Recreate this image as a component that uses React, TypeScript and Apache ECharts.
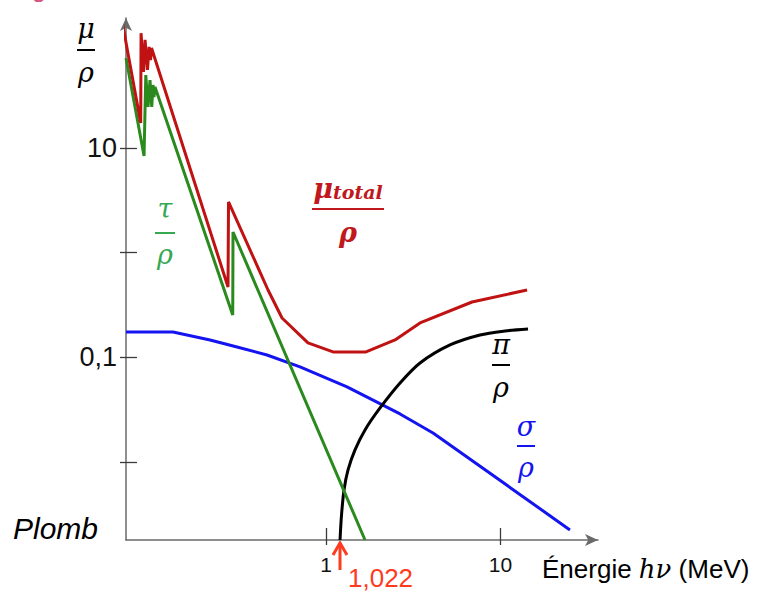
import React, { useEffect, useRef } from "react";
import * as echarts from "echarts";

// Energies in MeV, mass attenuation coefficients in cm²/g
const totalE = [0.0678, 0.0867, 0.0871, 0.09, 0.0918, 0.0948, 0.0968, 0.0987, 0.1, 0.2744, 0.2762, 0.4652, 0.5597, 0.788, 1.097, 1.695, 2.486, 3.457, 6.866, 14.19];
const totalMu = [163, 17.3, 125, 53.2, 108, 55.6, 92.3, 69.2, 90.2, 0.47, 3.05, 0.44, 0.2378, 0.1373, 0.1126, 0.1126, 0.1466, 0.2131, 0.338, 0.44];

const tauE = [0.0714, 0.0906, 0.0927, 0.0955, 0.098, 0.1003, 0.102, 0.1033, 0.1047, 0.292, 0.2931, 1.673];
const tauMu = [72.4, 8.39, 49.8, 24.7, 44.6, 24.7, 40.0, 30.7, 38.3, 0.254, 1.576, 0.0018];

const sigmaE = [0.0714, 0.1328, 0.2164, 0.309, 0.459, 0.7096, 1.319, 2.656, 4.105, 25.0];
const sigmaMu = [0.1748, 0.1748, 0.1466, 0.1257, 0.1054, 0.081, 0.0522, 0.0288, 0.01897, 0.002246];

const piE = [1.203, 1.227, 1.268, 1.337, 1.466, 1.673, 2.04, 2.656, 3.457, 5.135, 7.629, 10.61, 14.38];
const piMu = [0.0018, 0.003125, 0.005413, 0.008405, 0.01305, 0.02026, 0.03286, 0.05692, 0.08842, 0.1314, 0.1637, 0.1787, 0.1867];

const xTickValues = [1, 10];
const xTickLabels = ["1", "10"];
const yTickValues = [10, 1, 0.1, 0.01];
const yTickLabels = ["10", "", "0,1", ""];

const X_MIN = 0.0714;
const X_MAX = 36.2;
const Y_MIN = 0.0018;
const Y_MAX = 174.5;

const lg = (v: number) => Math.log10(v);
const toPts = (es: number[], vs: number[]) => es.map((e, i) => [lg(e), lg(vs[i])]);

const xTickLog = xTickValues.map(lg);
const yTickLog = yTickValues.map(lg);

const fmtX = (v: number) => {
  const i = xTickLog.findIndex((t) => Math.abs(t - v) < 1e-6);
  return i >= 0 ? xTickLabels[i] : "";
};
const fmtY = (v: number) => {
  const i = yTickLog.findIndex((t) => Math.abs(t - v) < 1e-6);
  return i >= 0 ? yTickLabels[i] : "";
};

const AXIS_COLOR = "#6a6a6a";
const TICK_COLOR = "#3c3c3c";
const GREEK_FONT = '"DejaVu Serif"';
const SANS = '"Liberation Sans", Arial, sans-serif';

function frac(cx: number, numY: number, lineY: number, denY: number, halfW: number, color: string, num: any, bold = false, numRich?: any) {
  const numStyle: any = {
    text: num,
    x: cx,
    y: numY,
    fill: color,
    fontFamily: GREEK_FONT,
    fontStyle: "italic",
    fontWeight: bold ? "bold" : "normal",
    fontSize: 27,
    align: "center",
    textAlign: "center",
    verticalAlign: "middle",
    textVerticalAlign: "middle",
  };
  if (numRich) numStyle.rich = numRich;
  return {
    type: "group",
    children: [
      { type: "text", style: numStyle },
      { type: "line", shape: { x1: cx - halfW, y1: lineY, x2: cx + halfW, y2: lineY }, style: { stroke: color, lineWidth: 2 } },
      {
        type: "text",
        style: {
          text: "ρ",
          x: cx,
          y: denY,
          fill: color,
          fontFamily: GREEK_FONT,
          fontStyle: "italic",
          fontWeight: bold ? "bold" : "normal",
          fontSize: 27,
          align: "center",
          textAlign: "center",
          verticalAlign: "middle",
          textVerticalAlign: "middle",
        },
      },
    ],
  };
}

export default function App() {
  const ref = useRef<HTMLDivElement>(null);
  useEffect(() => {
    if (!ref.current) return;
    const chart = echarts.init(ref.current, undefined, { renderer: "svg" });
    const xBase: any = { type: "value", min: lg(X_MIN), max: lg(X_MAX), splitLine: { show: false } };
    const yBase: any = { type: "value", min: lg(Y_MIN), max: lg(Y_MAX), splitLine: { show: false } };
    const line = (data: number[][], color: string, smooth: any = false, clip = true) => ({
      type: "line",
      data,
      showSymbol: false,
      smooth,
      clip,
      lineStyle: { color, width: 3 },
      itemStyle: { color },
      silent: true,
    });
    chart.setOption({
      animation: false,
      grid: { left: 126, right: 162, top: 18, bottom: 52, containLabel: false },
      xAxis: [
        {
          ...xBase,
          position: "bottom",
          axisLine: { show: true, onZero: false, symbol: ["none", "arrow"], symbolSize: [9, 13], lineStyle: { color: AXIS_COLOR, width: 1.5 } },
          axisTick: { show: true, inside: true, length: 12, customValues: xTickLog, lineStyle: { color: TICK_COLOR, width: 1.3 } },
          axisLabel: { show: true, customValues: xTickLog, formatter: fmtX, margin: 14, fontSize: 21, color: "#111", fontFamily: SANS },
        },
        {
          ...xBase,
          position: "bottom",
          axisLine: { show: false, onZero: false },
          axisTick: { show: true, inside: false, length: 5, customValues: xTickLog, lineStyle: { color: TICK_COLOR, width: 1.3 } },
          axisLabel: { show: false },
        },
      ],
      yAxis: [
        {
          ...yBase,
          position: "left",
          axisLine: { show: true, onZero: false, symbol: ["none", "arrow"], symbolSize: [9, 13], lineStyle: { color: AXIS_COLOR, width: 1.5 } },
          axisTick: { show: true, inside: true, length: 11, customValues: yTickLog, lineStyle: { color: TICK_COLOR, width: 1.3 } },
          axisLabel: { show: true, customValues: yTickLog, formatter: fmtY, margin: 9, fontSize: 27, color: "#111", fontFamily: SANS },
        },
        {
          ...yBase,
          position: "left",
          axisLine: { show: false, onZero: false },
          axisTick: { show: true, inside: false, length: 6, customValues: yTickLog, lineStyle: { color: TICK_COLOR, width: 1.3 } },
          axisLabel: { show: false },
        },
      ],
      series: [
        line(toPts(sigmaE, sigmaMu), "#1414f0"),
        line(toPts(piE, piMu), "#000000", 0.3),
        line(toPts(tauE, tauMu), "#2b8a1e"),
        line(toPts(totalE, totalMu), "#c01212", false, false),
      ],
      graphic: [
        {
          type: "text",
          style: { text: "Figure", x: 10, y: 1, fill: "#d4547f", fontSize: 26, fontFamily: SANS, verticalAlign: "bottom", textVerticalAlign: "bottom" },
        },
        frac(86, 28, 50, 72, 9, "#000000", "μ"),
        frac(165, 208, 233, 254, 10, "#35a852", "τ"),
        frac(348, 188, 209, 232, 36, "#c0181c", "{a|μ}{b|total}", true, {
          a: { fontFamily: GREEK_FONT, fontStyle: "italic", fontWeight: "bold", fontSize: 27, fill: "#c0181c", color: "#c0181c" },
          b: { fontFamily: GREEK_FONT, fontStyle: "italic", fontWeight: "bold", fontSize: 19, fill: "#c0181c", color: "#c0181c", padding: [8, 0, 0, 0] },
        }),
        frac(501, 344, 365, 387, 9, "#000000", "π"),
        frac(526, 426, 446, 467, 9, "#1414f0", "σ"),
        {
          type: "text",
          style: { text: "Plomb", x: 13, y: 528, fill: "#000", fontSize: 30, fontStyle: "italic", fontFamily: SANS, verticalAlign: "middle", textVerticalAlign: "middle" },
        },
        {
          type: "text",
          style: {
            text: "{s|Énergie }{m|hν}{s| (MeV)}",
            x: 542,
            y: 569,
            verticalAlign: "middle",
            textVerticalAlign: "middle",
            rich: {
              s: { fontSize: 26, fontFamily: SANS, fill: "#000", color: "#000" },
              m: { fontSize: 26, fontFamily: GREEK_FONT, fontStyle: "italic", fill: "#000", color: "#000" },
            },
          },
        },
        { type: "line", shape: { x1: 340, y1: 570, x2: 340, y2: 543 }, style: { stroke: "#ff3b1f", lineWidth: 3 } },
        { type: "polyline", shape: { points: [[333, 555], [340, 543], [347, 555]] }, style: { stroke: "#ff3b1f", lineWidth: 3, fill: "none" } },
        {
          type: "text",
          style: { text: "1,022", x: 348, y: 578, fill: "#ff3b1f", fontSize: 26, fontFamily: SANS, verticalAlign: "middle", textVerticalAlign: "middle" },
        },
      ],
    });
    return () => chart.dispose();
  }, []);
  return <div ref={ref} style={{ position: "absolute", left: 0, top: 0, width: 760, height: 592, background: "#fff" }} />;
}
